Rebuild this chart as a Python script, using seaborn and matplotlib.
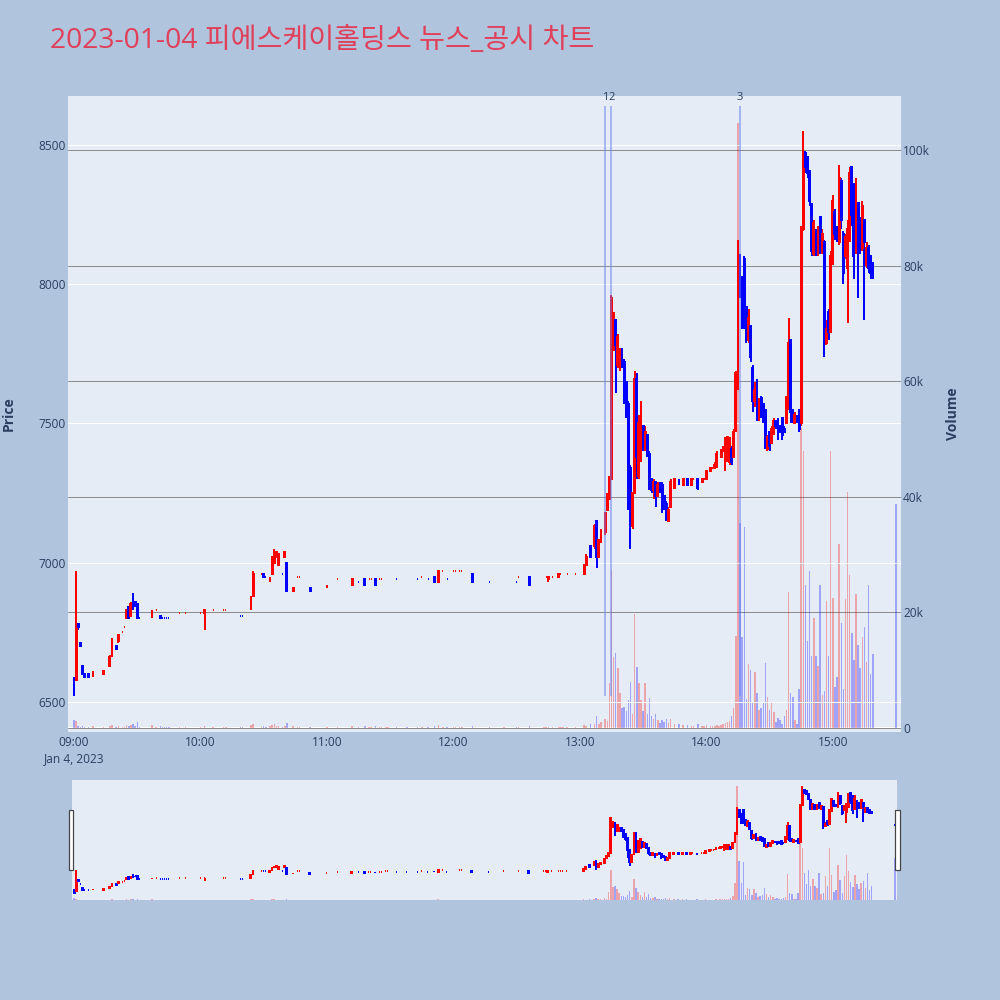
import numpy as np
import pandas as pd
import matplotlib
matplotlib.use("Agg")
import matplotlib.pyplot as plt
from matplotlib.patches import Rectangle
import matplotlib.transforms as mtransforms
import seaborn as sns

# --- data: 1-minute candles, minutes after 09:00 open ---
minute = [
    0, 1, 2, 3, 4, 5, 7, 9, 14, 17,
    18, 20, 21, 23, 24, 25, 26, 27, 28, 29,
    30, 31, 37, 39, 41, 42, 43, 44, 45, 50,
    53, 60, 62, 66, 71, 72, 79, 80, 84, 85,
    89, 90, 91, 93, 94, 95, 96, 97, 99, 100,
    101, 104, 106, 107, 112, 120, 125, 132, 135, 138,
    140, 141, 143, 145, 146, 148, 149, 153, 158, 163,
    165, 168, 171, 173, 175, 177, 180, 181, 183, 184,
    189, 197, 204, 210, 211, 216, 223, 224, 225, 227,
    230, 231, 232, 234, 238, 242, 243, 245, 247, 248,
    249, 250, 252, 253, 254, 255, 256, 257, 258, 259,
    260, 261, 262, 263, 264, 265, 266, 267, 268, 269,
    270, 271, 272, 273, 274, 275, 276, 277, 278, 279,
    280, 281, 282, 283, 285, 287, 289, 291, 293, 294,
    296, 298, 299, 300, 302, 303, 304, 305, 306, 307,
    308, 309, 310, 311, 312, 313, 314, 315, 316, 317,
    318, 319, 320, 321, 322, 323, 324, 325, 326, 327,
    328, 329, 330, 331, 332, 333, 334, 335, 336, 337,
    338, 339, 340, 341, 342, 343, 344, 345, 346, 347,
    348, 349, 350, 351, 352, 353, 354, 355, 356, 357,
    358, 359, 360, 361, 362, 363, 364, 365, 366, 367,
    368, 369, 370, 371, 372, 373, 374, 375, 376, 377,
    378, 379, 390,
]

open_ = [
    6590, 6580, 6780, 6710, 6630, 6600, 6600, 6590, 6600, 6630,
    6660, 6700, 6720, 6750, 6770, 6800, 6840, 6810, 6890, 6860,
    6850, 6800, 6810, 6830, 6810, 6800, 6800, 6800, 6800, 6820,
    6820, 6820, 6820, 6830, 6830, 6830, 6810, 6810, 6830, 6880,
    6960, 6960, 6950, 6930, 6960, 7000, 7020, 6990, 6960, 7020,
    7000, 6900, 6950, 6950, 6910, 6910, 6940, 6920, 6930, 6940,
    6940, 6940, 6940, 6940, 6940, 6950, 6950, 6940, 6940, 6940,
    6950, 6940, 6950, 6930, 6970, 6940, 6970, 6970, 6970, 6970,
    6960, 6930, 6950, 6930, 6950, 6950, 6950, 6950, 6940, 6950,
    6950, 6960, 6960, 6960, 6960, 6960, 6990, 7060, 7060, 7150,
    7020, 7080, 7110, 7190, 7230, 7300, 7780, 7870, 7710, 7700,
    7760, 7720, 7650, 7570, 7340, 7130, 7250, 7660, 7310, 7380,
    7490, 7410, 7460, 7390, 7300, 7260, 7290, 7240, 7290, 7280,
    7240, 7210, 7150, 7200, 7270, 7300, 7280, 7300, 7280, 7300,
    7300, 7290, 7300, 7300, 7330, 7340, 7340, 7350, 7390, 7380,
    7400, 7400, 7370, 7360, 7410, 7380, 7480, 7630, 8100, 8020,
    8090, 7920, 7800, 7850, 7700, 7580, 7660, 7530, 7590, 7570,
    7550, 7410, 7470, 7430, 7470, 7510, 7500, 7490, 7520, 7480,
    7500, 7560, 7800, 7550, 7500, 7530, 7550, 7500, 8200, 8470,
    8450, 8400, 8280, 8110, 8200, 8110, 8240, 8120, 8150, 7790,
    7900, 7830, 8080, 8260, 8200, 8150, 8370, 8180, 8100, 8060,
    8160, 8420, 8360, 8120, 8290, 8230, 8130, 8230, 8070, 8130,
    8100, 8070, 7810,
]

high = [
    6590, 6970, 6780, 6710, 6630, 6600, 6600, 6610, 6610, 6670,
    6730, 6700, 6740, 6750, 6770, 6830, 6840, 6860, 6890, 6860,
    6850, 6800, 6830, 6830, 6810, 6800, 6800, 6800, 6800, 6820,
    6820, 6820, 6830, 6830, 6830, 6830, 6810, 6810, 6880, 6970,
    6960, 6960, 6950, 6950, 7020, 7050, 7040, 7030, 6960, 7040,
    7000, 6910, 6950, 6950, 6910, 6920, 6940, 6940, 6930, 6940,
    6940, 6940, 6940, 6940, 6940, 6950, 6950, 6940, 6940, 6940,
    6950, 6940, 6950, 6970, 6970, 6940, 6970, 6970, 6970, 6970,
    6960, 6930, 6950, 6930, 6950, 6950, 6950, 6950, 6950, 6950,
    6960, 6960, 6960, 6960, 6960, 6990, 7030, 7060, 7140, 7150,
    7080, 7120, 7180, 7250, 7310, 7960, 7900, 7870, 7820, 7770,
    7770, 7730, 7650, 7580, 7350, 7250, 7690, 7680, 7530, 7580,
    7490, 7490, 7460, 7400, 7300, 7300, 7290, 7290, 7290, 7290,
    7240, 7220, 7200, 7300, 7300, 7300, 7300, 7300, 7300, 7300,
    7300, 7300, 7300, 7330, 7340, 7340, 7360, 7400, 7390, 7410,
    7420, 7450, 7450, 7450, 7420, 7480, 7690, 8160, 8110, 8030,
    8100, 7920, 7910, 7850, 7710, 7650, 7660, 7590, 7600, 7570,
    7550, 7460, 7470, 7490, 7520, 7510, 7520, 7490, 7520, 7490,
    7600, 7880, 7800, 7550, 7540, 7530, 7550, 8210, 8550, 8480,
    8460, 8410, 8290, 8230, 8200, 8210, 8240, 8200, 8160, 7870,
    7910, 8120, 8320, 8270, 8210, 8430, 8380, 8190, 8180, 8230,
    8420, 8420, 8360, 8380, 8290, 8240, 8300, 8230, 8150, 8140,
    8100, 8080, 7810,
]

low = [
    6520, 6580, 6760, 6700, 6600, 6590, 6590, 6590, 6600, 6630,
    6660, 6690, 6710, 6750, 6770, 6800, 6800, 6810, 6830, 6840,
    6800, 6800, 6800, 6830, 6800, 6800, 6800, 6800, 6800, 6820,
    6820, 6820, 6760, 6830, 6830, 6830, 6810, 6810, 6830, 6880,
    6960, 6950, 6950, 6930, 6960, 7000, 7020, 6990, 6960, 7020,
    6900, 6900, 6950, 6950, 6900, 6910, 6940, 6920, 6930, 6920,
    6940, 6940, 6920, 6940, 6940, 6950, 6950, 6940, 6940, 6940,
    6950, 6940, 6930, 6930, 6970, 6940, 6970, 6970, 6970, 6970,
    6930, 6930, 6950, 6930, 6950, 6920, 6950, 6950, 6930, 6950,
    6950, 6960, 6960, 6960, 6960, 6960, 6990, 7020, 7050, 6980,
    7020, 7070, 7100, 7190, 7230, 7300, 7760, 7610, 7700, 7690,
    7700, 7570, 7520, 7190, 7050, 7120, 7250, 7300, 7300, 7360,
    7400, 7400, 7380, 7260, 7250, 7230, 7200, 7240, 7250, 7180,
    7190, 7150, 7150, 7200, 7270, 7280, 7280, 7280, 7280, 7300,
    7260, 7290, 7300, 7300, 7330, 7340, 7340, 7340, 7390, 7380,
    7400, 7330, 7360, 7350, 7350, 7380, 7470, 7620, 7950, 7840,
    7840, 7790, 7790, 7720, 7540, 7560, 7510, 7510, 7520, 7500,
    7410, 7400, 7400, 7430, 7460, 7480, 7440, 7470, 7440, 7470,
    7500, 7550, 7500, 7500, 7500, 7500, 7470, 7490, 8190, 8400,
    8380, 8280, 8100, 8100, 8100, 8100, 8110, 8110, 7740, 7780,
    7800, 7830, 8070, 8160, 8150, 8140, 8200, 8000, 8090, 7860,
    8150, 8210, 8020, 8110, 7950, 8110, 8120, 7870, 8060, 8040,
    8020, 8020, 7810,
]

close = [
    6530, 6780, 6770, 6700, 6600, 6590, 6590, 6610, 6610, 6660,
    6730, 6690, 6740, 6750, 6770, 6830, 6800, 6850, 6840, 6850,
    6800, 6800, 6820, 6830, 6800, 6800, 6800, 6800, 6800, 6820,
    6820, 6820, 6830, 6830, 6830, 6830, 6810, 6810, 6880, 6960,
    6960, 6950, 6950, 6950, 7020, 7040, 7040, 7030, 6960, 7040,
    6900, 6910, 6950, 6950, 6900, 6920, 6940, 6940, 6930, 6920,
    6940, 6940, 6920, 6940, 6940, 6950, 6950, 6940, 6940, 6940,
    6950, 6940, 6930, 6970, 6970, 6940, 6970, 6970, 6970, 6970,
    6930, 6930, 6950, 6930, 6950, 6920, 6950, 6950, 6950, 6950,
    6960, 6960, 6960, 6960, 6960, 6990, 7020, 7020, 7130, 7020,
    7080, 7110, 7180, 7230, 7300, 7950, 7880, 7780, 7810, 7760,
    7710, 7620, 7560, 7340, 7130, 7250, 7660, 7380, 7500, 7560,
    7410, 7470, 7390, 7290, 7260, 7290, 7240, 7280, 7270, 7240,
    7210, 7160, 7190, 7290, 7300, 7280, 7300, 7280, 7300, 7300,
    7270, 7300, 7300, 7330, 7340, 7340, 7350, 7390, 7390, 7400,
    7410, 7440, 7450, 7440, 7360, 7470, 7680, 8100, 7990, 7900,
    7880, 7820, 7880, 7740, 7580, 7620, 7540, 7570, 7540, 7520,
    7440, 7450, 7420, 7480, 7510, 7490, 7460, 7470, 7460, 7470,
    7590, 7790, 7540, 7510, 7530, 7510, 7480, 8200, 8460, 8420,
    8400, 8300, 8120, 8220, 8110, 8200, 8130, 8180, 7800, 7840,
    7830, 8100, 8300, 8180, 8160, 8380, 8230, 8040, 8170, 8200,
    8400, 8250, 8100, 8310, 8140, 8140, 8280, 8150, 8130, 8060,
    8040, 8040, 7810,
]

volume = [
    1400, 1200, 300, 200, 400, 200, 200, 300, 200, 400,
    500, 200, 400, 200, 200, 500, 400, 500, 600, 300,
    1000, 200, 500, 200, 400, 200, 100, 100, 100, 200,
    200, 200, 400, 200, 200, 200, 200, 200, 500, 600,
    200, 300, 200, 300, 500, 600, 300, 400, 200, 300,
    800, 300, 200, 200, 200, 200, 100, 300, 100, 300,
    100, 100, 300, 100, 100, 100, 100, 100, 100, 100,
    200, 100, 300, 500, 100, 100, 100, 100, 100, 100,
    400, 100, 100, 100, 100, 300, 100, 100, 200, 100,
    200, 100, 100, 100, 200, 500, 400, 700, 700, 2000,
    600, 1000, 1500, 1200, 7800, 27400, 12300, 13000, 10400, 6100,
    3400, 3600, 3000, 4800, 8000, 2500, 19700, 10600, 7800, 4800,
    3000, 7800, 2500, 5200, 2000, 1500, 2500, 1300, 800, 1300,
    1000, 1500, 900, 1500, 700, 600, 500, 500, 400, 300,
    600, 400, 300, 500, 400, 300, 300, 500, 300, 500,
    600, 800, 1000, 1200, 2000, 3500, 16000, 104700, 35500, 15700,
    34800, 5000, 11000, 10000, 4300, 9700, 6000, 3100, 3500, 4300,
    11200, 5400, 3100, 4300, 2800, 1000, 1700, 1300, 700, 2000,
    3100, 23600, 6000, 5400, 1300, 700, 6700, 52000, 48000, 24700,
    15000, 27200, 12500, 19000, 12500, 10700, 24700, 5700, 6400, 22000,
    12500, 48000, 22500, 7100, 8900, 31900, 18200, 6700, 22300, 40900,
    26500, 16400, 11800, 23200, 14300, 10400, 15800, 17500, 11400, 24700,
    9300, 12800, 38700,
]

# news / disclosure markers
news_minute = [252, 255, 316]
news_label = ["1", "2", "3"]
news_price_span = [6520, 8640]

# axis ticks
time_ticks = [0, 60, 120, 180, 240, 300, 360]
time_labels = ["09:00\nJan 4, 2023", "10:00", "11:00", "12:00", "13:00", "14:00", "15:00"]
price_ticks = [6500, 7000, 7500, 8000, 8500]
volume_ticks = [0, 20000, 40000, 60000, 80000, 100000]
volume_labels = ["0", "20k", "40k", "60k", "80k", "100k"]

title = "2023-01-04 피에스케이홀딩스 뉴스_공시 차트"

# --- style ---
PAPER = "#b0c4de"
PLOT_BG = "#e5ecf6"
FONT_C = "#2a3f5f"
RED = "#ff0000"
BLUE = "#0000ff"
PX = 0.72  # points per pixel at dpi=100

sns.set_theme(style="white", rc={"figure.facecolor": PAPER, "axes.facecolor": PLOT_BG})
plt.rcParams["font.family"] = ["Open Sans", "Noto Sans CJK KR", "DejaVu Sans"]

df = pd.DataFrame({"minute": minute, "open": open_, "high": high,
                   "low": low, "close": close, "volume": volume})

# plotly rule: equal open/close takes direction from previous close
ups = []
prev_c, prev_up = None, False
for o, c in zip(df["open"], df["close"]):
    if c > o:
        up = True
    elif c < o:
        up = False
    elif prev_c is not None and c != prev_c:
        up = c > prev_c
    else:
        up = prev_up
    ups.append(up)
    prev_c, prev_up = c, up
df["up"] = ups
df["color"] = np.where(df["up"], RED, BLUE)


def draw_candles(ax, d):
    ax.vlines(d["minute"], d["low"], d["high"], colors=d["color"], lw=2 * PX, zorder=3)
    bottoms = np.minimum(d["open"], d["close"])
    heights = np.abs(d["close"] - d["open"])
    ax.bar(d["minute"], heights, bottom=bottoms, width=0.4, color=d["color"],
           edgecolor=d["color"], linewidth=2 * PX, zorder=4)


def draw_volume(ax, d):
    ax.bar(d["minute"], d["volume"], width=0.7, color=d["color"], alpha=0.3,
           linewidth=0, zorder=2)


fig = plt.figure(figsize=(10, 10), dpi=100)
fig.patch.set_facecolor(PAPER)

# main panel: price on top layer (left axis), volume below (right axis)
ax = fig.add_axes([0.068, 0.268, 0.833, 0.636])
ax2 = ax.twinx()
ax.set_zorder(2)
ax2.set_zorder(1)
ax.patch.set_visible(False)
ax2.patch.set_visible(True)
ax2.patch.set_facecolor(PLOT_BG)

draw_volume(ax2, df)
draw_candles(ax, df)
ax.vlines(news_minute, news_price_span[0], news_price_span[1], colors="#6482f0",
          alpha=0.5, lw=2 * PX, zorder=5)
trans = mtransforms.blended_transform_factory(ax.transData, ax.transAxes)
for m, lab in zip(news_minute, news_label):
    ax.text(m, 0.998, lab, transform=trans, ha="center", va="center",
            fontsize=8, color=FONT_C, clip_on=False)

ax.set_xlim(-2.85, 392.35)
ax.set_ylim(6392, 8676)
ax2.set_ylim(-700, 109400)

ax.set_xticks(time_ticks)
ax.set_xticklabels(time_labels)
ax.set_yticks(price_ticks)
ax.set_yticklabels([str(p) for p in price_ticks])
ax2.set_yticks(volume_ticks)
ax2.set_yticklabels(volume_labels)

ax.grid(axis="y", color="white", lw=PX)
ax.grid(axis="x", visible=False)
ax2.grid(axis="y", color="#8c8c8c", lw=PX)
ax2.grid(axis="x", visible=False)
ax2.axhline(0, color="white", lw=2 * PX, zorder=0.5)

ax.tick_params(axis="x", length=0, pad=3, labelsize=8.6, colors=FONT_C)
ax.tick_params(axis="y", length=0, pad=1.5, labelsize=8.6, colors=FONT_C)
ax2.tick_params(axis="y", length=0, pad=1.5, labelsize=8.6, colors=FONT_C)
for lab in ax.get_xticklabels():
    lab.set_linespacing(1.3)

ax.set_ylabel("Price", fontsize=10, fontweight="bold", color=FONT_C)
ax.yaxis.set_label_coords(-0.0708, 0.5)
ax.yaxis.label.set_verticalalignment("center")
ax2.set_ylabel("Volume", fontsize=10, fontweight="bold", color=FONT_C)
ax2.yaxis.set_label_coords(1.0624, 0.5)
ax2.yaxis.label.set_verticalalignment("center")

for a in (ax, ax2):
    for s in a.spines.values():
        s.set_visible(False)

# range slider with the whole session
sl = fig.add_axes([0.072, 0.100, 0.825, 0.120])
sl2 = sl.twinx()
sl.set_zorder(2)
sl2.set_zorder(1)
sl.patch.set_visible(False)
sl2.patch.set_visible(True)
sl2.patch.set_facecolor(PLOT_BG)
draw_volume(sl2, df)
draw_candles(sl, df)
sl.set_xlim(-1, 391)
sl.set_ylim(6407, 8663)
sl2.set_ylim(0, 110200)
for a in (sl, sl2):
    a.set_xticks([])
    a.set_yticks([])
    for s in a.spines.values():
        s.set_visible(False)

for x0 in (0.0685, 0.895):
    fig.patches.append(Rectangle((x0, 0.130), 0.0045, 0.060, transform=fig.transFigure,
                                 facecolor="white", edgecolor="#444444", lw=1.2 * PX,
                                 zorder=10))

fig.text(0.05, 0.959, title, color="#e0405a", fontsize=20.3, ha="left", va="center")

fig.savefig("out.png", dpi=100, facecolor=PAPER)
